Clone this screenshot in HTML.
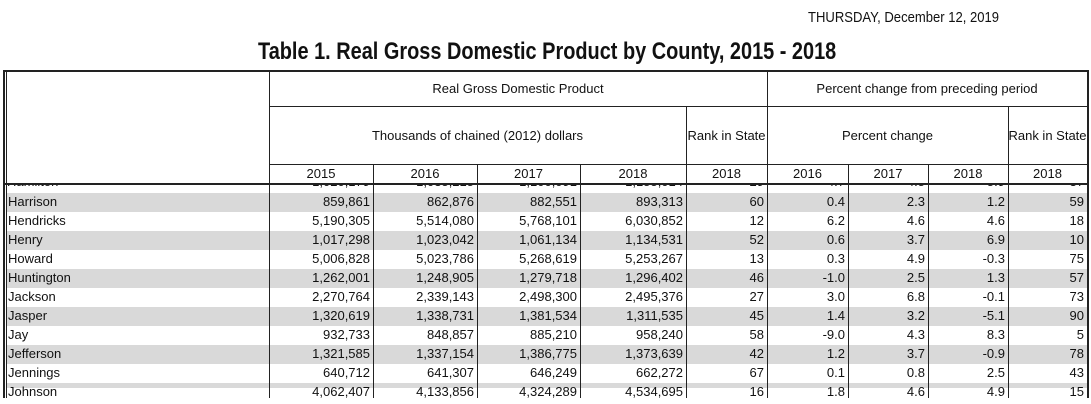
<!DOCTYPE html>
<html><head><meta charset="utf-8"><style>
body{margin:0;width:1091px;height:404px;overflow:hidden;background:#fff;font-family:"Liberation Sans",Arial,sans-serif;color:#111;position:relative}
.a{position:absolute;box-sizing:border-box}
.t{position:absolute;white-space:nowrap;font-size:13px;line-height:19px}
.vl{position:absolute;background:#222;width:1px}
.hl{position:absolute;background:#222;height:1px}
</style></head><body>
<div class="a" style="left:808px;top:9px;font-size:15px;transform:scaleX(0.87);transform-origin:0 0;white-space:nowrap">THURSDAY, December 12, 2019</div>
<div class="a" style="left:258px;top:38px;font-size:24px;font-weight:bold;transform:scaleX(0.83);transform-origin:0 0;white-space:nowrap">Table 1. Real Gross Domestic Product by County, 2015 - 2018</div>
<div id="tbl" class="a" style="left:0;top:0;width:1091px;height:404px"></div>
<script>
const counties=["Harrison","Hendricks","Henry","Howard","Huntington","Jackson","Jasper","Jay","Jefferson","Jennings","Johnson"];
const gdp2015=["859,861","5,190,305","1,017,298","5,006,828","1,262,001","2,270,764","1,320,619","932,733","1,321,585","640,712","4,062,407"];
const gdp2016=["862,876","5,514,080","1,023,042","5,023,786","1,248,905","2,339,143","1,338,731","848,857","1,337,154","641,307","4,133,856"];
const gdp2017=["882,551","5,768,101","1,061,134","5,268,619","1,279,718","2,498,300","1,381,534","885,210","1,386,775","646,249","4,324,289"];
const gdp2018=["893,313","6,030,852","1,134,531","5,253,267","1,296,402","2,495,376","1,311,535","958,240","1,373,639","662,272","4,534,695"];
const rankGdp=["60","12","52","13","46","27","45","58","42","67","16"];
const pct2016=["0.4","6.2","0.6","0.3","-1.0","3.0","1.4","-9.0","1.2","0.1","1.8"];
const pct2017=["2.3","4.6","3.7","4.9","2.5","6.8","3.2","4.3","3.7","0.8","4.6"];
const pct2018=["1.2","4.6","6.9","-0.3","1.3","-0.1","-5.1","8.3","-0.9","2.5","4.9"];
const rankPct=["59","18","10","75","57","73","90","5","78","43","15"];
const cols=[6,269,373,477,580,686,767,848,928,1008,1087];
const T=document.getElementById('tbl');
function add(cls,style,txt){const d=document.createElement('div');d.className=cls;d.style.cssText=style;if(txt!==undefined)d.textContent=txt;T.appendChild(d);return d;}
const y0=193,rh=19;
// stripes
for(let i=0;i<counties.length;i++){if(i%2===0){const s=add('a',`left:7px;top:${y0+i*rh}px;width:1080px;height:${i===10?5:rh}px;background:#d9d9d9`);

}}
// partial row (clipped)
const pr=add('a','left:7px;top:184px;width:1080px;height:9px;overflow:hidden');


const partial=["Hamilton","1,020,179","1,035,215","1,100,091","1,155,014","29","4.7","4.5","5.9","37"];
for(let c=0;c<10;c++){const d=document.createElement('div');d.className='t';d.textContent=partial[c];
d.style.cssText=c===0?`left:0;top:-12px`:`left:${cols[c]-7}px;width:${cols[c+1]-cols[c]-3}px;text-align:right;top:-12px`;pr.appendChild(d);}
// data rows
const series=[gdp2015,gdp2016,gdp2017,gdp2018,rankGdp,pct2016,pct2017,pct2018,rankPct];
for(let i=0;i<counties.length;i++){const y=y0+i*rh-1;
const n=add('t',`left:8px;top:${y}px`,counties[i]);


for(let c=0;c<9;c++){const v=add('t',`left:${cols[c+1]}px;width:${cols[c+2]-cols[c+1]-3}px;text-align:right;top:${y}px`,series[c][i]);

}}
// headers
function hdr(x1,x2,y,h,txt,name){const d=add('t',`left:${x1}px;width:${x2-x1}px;top:${y}px;height:${h}px;line-height:${h}px;text-align:center`,txt);

}
hdr(269,767,71,36,'Real Gross Domestic Product','header-real-gdp');
hdr(767,1087,71,36,'Percent change from preceding period','header-percent-change-period');
hdr(269,686,107,57,'Thousands of chained (2012) dollars','header-thousands-dollars');
hdr(686,767,107,57,'Rank in State','header-rank-gdp');
hdr(767,1008,107,57,'Percent change','header-percent-change');
hdr(1008,1087,107,57,'Rank in State','header-rank-pct');
const yrs=["2015","2016","2017","2018","2018","2016","2017","2018","2018"];
for(let c=0;c<9;c++)hdr(cols[c+1],cols[c+2],164,20,yrs[c],'year-header');
// lines
add('hl','left:3px;top:70px;width:1086px;height:2px');
add('hl','left:269px;top:106px;width:819px');
add('hl','left:269px;top:164px;width:819px');
add('hl','left:3px;top:183px;width:1086px;height:2px');
add('vl','left:3px;top:70px;height:328px;width:2px');
add('vl','left:6px;top:70px;height:328px');
add('vl','left:1087px;top:70px;height:328px;width:2px');
add('vl','left:269px;top:70px;height:328px');
add('vl','left:767px;top:70px;height:328px');
add('vl','left:686px;top:106px;height:292px');
add('vl','left:1008px;top:106px;height:292px');
[373,477,580,848,928].forEach(x=>add('vl',`left:${x}px;top:164px;height:234px`));
</script>
</body></html>
